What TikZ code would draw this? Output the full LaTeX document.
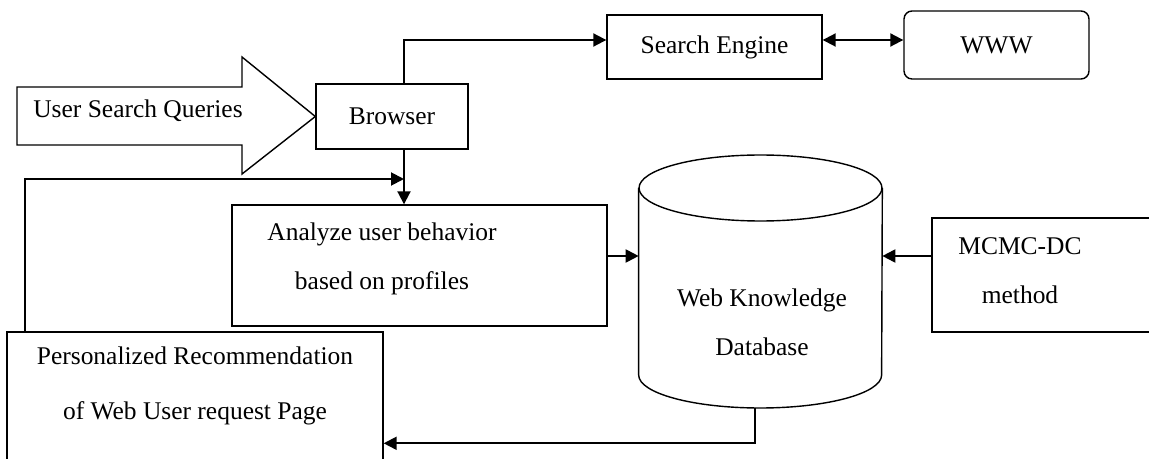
\documentclass[tikz,border=0pt]{standalone}
\usepackage{fontspec}
\setmainfont{Liberation Serif}
\usetikzlibrary{arrows.meta, positioning}

\begin{document}
\begin{tikzpicture}[
    x=0.02cm, y=-0.02cm,
    txt/.style={align=center, font=\fontsize{14.5}{28}\selectfont},
    box/.style={rectangle, draw, line width=0.8pt, inner sep=0pt, txt},
    arr/.style={-{Triangle[length=0.26cm, width=0.26cm]}, line width=1.1pt},
    darr/.style={{Triangle[length=0.26cm, width=0.26cm]}-{Triangle[length=0.26cm, width=0.26cm]}, line width=1.1pt},
  ]
    \useasboundingbox (0,0) rectangle (1149,459);

    \node[box, minimum width=3.04cm, minimum height=1.3cm] (browser) at (392,116.5) {Browser};
    \node[box, minimum width=4.3cm, minimum height=1.28cm] (search) at (714.5,47) {Search Engine};
    \node[box, rounded corners=0.16cm, minimum width=3.7cm, minimum height=1.36cm] (www) at (996.5,45) {WWW};
    \node[box, minimum width=7.5cm, minimum height=2.42cm] (analyze) at (419.5,265.5) {};
    \node[txt] (analyzetxt) at (382,259) {Analyze user behavior\\ based on profiles};
    \node[box, minimum width=4.56cm, minimum height=2.28cm] (mcmc) at (1046,275) {};
    \node[txt] (mcmctxt) at (1020,271) {MCMC-DC\\ method};
    \node[box, minimum width=7.52cm, minimum height=2.96cm] (personal) at (195,406) {};
    \node[txt, font=\fontsize{14.5}{31}\selectfont] (personaltxt) at (195,386) {Personalized Recommendation\\ of Web User request Page};

    % database cylinder
    \node[minimum width=4.86cm, minimum height=5.06cm, inner sep=0pt] (db) at (760.5,281.5) {};
    \draw[line width=0.8pt] (db.north west |- 0,188) -- (db.west |- 0,375)
        arc[start angle=180, end angle=360, x radius=2.43cm, y radius=0.66cm] -- (db.east |- 0,188);
    \draw[line width=0.8pt] (760.5,188) ellipse [x radius=2.43cm, y radius=0.66cm];
    \node[txt] (dbtxt) at (762,322) {Web Knowledge\\ Database};

    % input arrow
    \draw[line width=0.8pt] (browser.west) -- (242,174) -- (242,145) -- (17,145)
        -- (17,87) -- (242,87) -- (242,57) -- cycle;
    \node[txt] (query) at (138,111) {User Search Queries};

    \coordinate (fbjoin) at (404,179);

    \draw[arr] ([xshift=0.24cm]browser.north) |- ([yshift=0.14cm]search.west);
    \draw[darr] ([yshift=0.14cm]search.east) -- ([yshift=0.14cm]search.east -| www.west);
    \draw[arr] ([xshift=0.24cm]browser.south) -- ([xshift=0.24cm]browser.south |- analyze.north);
    \draw[arr] ([xshift=0.38cm]personal.north west) |- (fbjoin);
    \draw[arr] ([yshift=0.19cm]analyze.east) -- ([yshift=0.19cm]analyze.east -| db.west);
    \draw[arr] ([yshift=0.38cm]mcmc.west) -- ([yshift=0.38cm]mcmc.west -| db.east);
    \draw[arr] ([xshift=-0.11cm]db.south) |- ([yshift=-2.24cm]personal.north east);
\end{tikzpicture}
\end{document}
